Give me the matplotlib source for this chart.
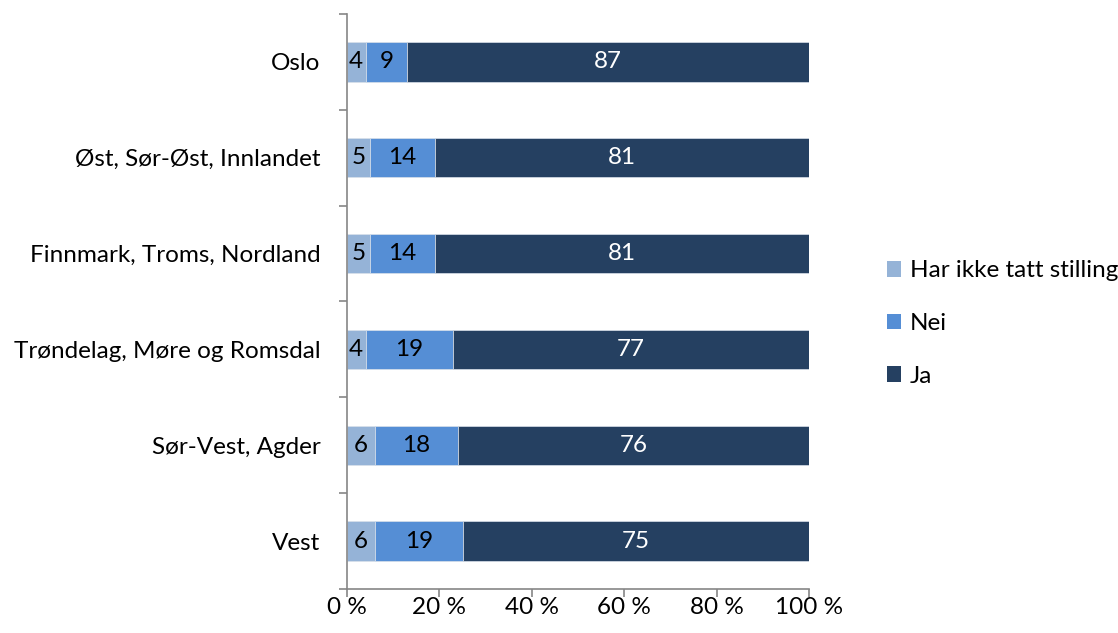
import matplotlib.pyplot as plt
from matplotlib.patches import Patch
from matplotlib.ticker import FixedLocator, FuncFormatter
import numpy as np

plt.rcParams['font.family'] = ['Lato', 'DejaVu Sans']

regioner = ['Oslo', 'Øst, Sør-Øst, Innlandet', 'Finnmark, Troms, Nordland',
            'Trøndelag, Møre og Romsdal', 'Sør-Vest, Agder', 'Vest']
ikke_tatt = [4, 5, 5, 4, 6, 6]
nei = [9, 14, 14, 19, 18, 19]
ja = [87, 81, 81, 77, 76, 75]

serier = ['Har ikke tatt stilling', 'Nei', 'Ja']
farger = ['#95b3d7', '#558ed5', '#254061']
tekstfarge = ['black', 'black', 'white']
fs = 17.5

fig = plt.figure(figsize=(11.18, 6.33), dpi=100)
ax = fig.add_axes([0.3104, 0.0695, 0.7236 - 0.3104, 0.9779 - 0.0695])

y = np.arange(len(regioner))[::-1]
venstre = np.zeros(len(regioner))
for navn, verdier, farge, tf in zip(serier, [ikke_tatt, nei, ja], farger, tekstfarge):
    v = np.array(verdier, dtype=float)
    bars = ax.barh(y, v, left=venstre, height=0.41, color=farge,
                   edgecolor='#d9e1ea', linewidth=0.5, label=navn)
    for b, val in zip(bars, verdier):
        ax.text(b.get_x() + b.get_width() / 2, b.get_y() + b.get_height() / 2,
                str(val), ha='center', va='center', color=tf, fontsize=fs)
    venstre += v

ax.set_xlim(0, 100)
ax.set_ylim(-0.5, len(regioner) - 0.5)
ax.set_xticks([0, 20, 40, 60, 80, 100])
ax.xaxis.set_major_formatter(FuncFormatter(lambda x, p: f'{int(x)} %'))
ax.set_yticks(y)
ax.set_yticklabels(regioner)
ax.yaxis.set_minor_locator(FixedLocator(np.arange(-0.5, len(regioner), 1.0)))

grå = '#868686'
for s in ['top', 'right']:
    ax.spines[s].set_visible(False)
for s in ['left', 'bottom']:
    ax.spines[s].set_color(grå)
    ax.spines[s].set_linewidth(1.2)

ax.tick_params(axis='y', which='major', length=0, pad=19, labelsize=fs)
ax.tick_params(axis='y', which='minor', length=6, width=1.2, color=grå, direction='out')
ax.tick_params(axis='x', length=6, width=1.2, color=grå, direction='out', pad=0, labelsize=fs)

handles = [Patch(facecolor=f, edgecolor='none') for f in farger]
fig.legend(handles, serier, loc='center left', bbox_to_anchor=(0.7845, 0.489),
           frameon=False, fontsize=fs, handlelength=0.6, handleheight=0.6,
           handletextpad=0.35, labelspacing=1.3, borderaxespad=0)

fig.savefig('out.png', dpi=100)
